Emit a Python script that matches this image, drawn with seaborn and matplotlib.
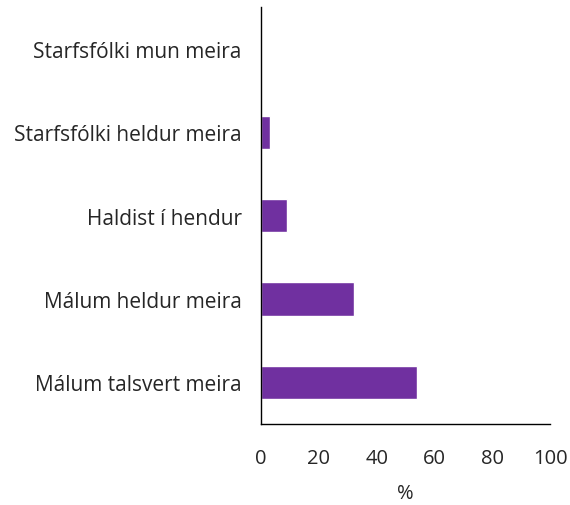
import matplotlib
matplotlib.use("Agg")
import matplotlib.pyplot as plt
import seaborn as sns
import pandas as pd

categories = [
    "Starfsfólki mun meira",
    "Starfsfólki heldur meira",
    "Haldist í hendur",
    "Málum heldur meira",
    "Málum talsvert meira",
]
values = [0, 3, 9, 32, 54]
x_ticks = [0, 20, 40, 60, 80, 100]

sns.set_style("white")
plt.rcParams["font.family"] = ["Open Sans", "DejaVu Sans"]

df = pd.DataFrame({"category": categories, "value": values})

fig = plt.figure(figsize=(5.7, 5.06), dpi=100)
ax = fig.add_axes([0.458, 0.160, 0.507, 0.824])

sns.barplot(data=df, x="value", y="category", orient="h", color="#7030A0",
            saturation=1, width=0.4, ax=ax)

ax.set_xlim(0, 100)
ax.set_ylim(4.5, -0.5)
ax.set_xticks(x_ticks)
ax.set_xticklabels([str(t) for t in x_ticks], fontsize=14.5, color="#262626")
ax.set_yticks(range(len(categories)))
ax.set_yticklabels(categories, fontsize=15, color="#262626")
ax.tick_params(axis="x", length=0, pad=17)
ax.tick_params(axis="y", length=0, pad=14)
ax.set_xlabel("%", fontsize=14.5, color="#262626", labelpad=11)
ax.set_ylabel("")

for side in ("top", "right"):
    ax.spines[side].set_visible(False)
for side in ("left", "bottom"):
    ax.spines[side].set_color("black")
    ax.spines[side].set_linewidth(1.0)

fig.savefig("out.png", dpi=100)
